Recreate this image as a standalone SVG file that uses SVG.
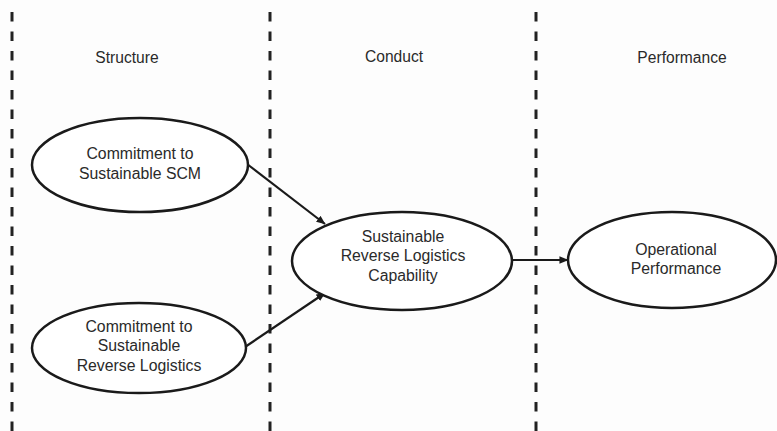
<svg xmlns="http://www.w3.org/2000/svg" width="777" height="431" viewBox="0 0 777 431">
<style>
.div{stroke:#222;stroke-width:3;stroke-dasharray:9.5 10;fill:none}
.node ellipse{fill:#fff;stroke:#1a1a1a;stroke-width:2.5}
text{font-family:"Liberation Sans",Arial,sans-serif;font-size:15.8px;fill:#2a2a2a;text-anchor:middle}
.head{font-size:15.6px}
.conn line{stroke:#1a1a1a;stroke-width:2.2}
</style>
<defs>
<marker id="ah" viewBox="0 0 10 10" refX="9.5" refY="5" markerWidth="9" markerHeight="9" markerUnits="userSpaceOnUse" orient="auto">
<path d="M0,0.8 L10,5 L0,9.2 Z" fill="#1a1a1a"/>
</marker>
</defs>
<rect width="777" height="431" fill="#fdfdfd"/>
<g id="dividers">
<line class="div" x1="12" y1="12" x2="12" y2="431"/>
<line class="div" x1="270" y1="12" x2="270" y2="431"/>
<line class="div" x1="536" y1="12" x2="536" y2="431"/>
</g>
<g id="headers">
<text class="head" x="127" y="63">Structure</text>
<text class="head" x="394" y="62">Conduct</text>
<text class="head" x="682" y="63">Performance</text>
</g>
<g class="conn" id="connectors">
<line x1="247" y1="164" x2="325" y2="224" marker-end="url(#ah)"/>
<line x1="245" y1="347" x2="325" y2="293" marker-end="url(#ah)"/>
<line x1="513" y1="260" x2="568" y2="260" marker-end="url(#ah)"/>
</g>
<g class="node" id="n-scm">
<ellipse cx="140" cy="165" rx="108" ry="47"/>
<text x="140" y="159">Commitment to</text>
<text x="140" y="179">Sustainable SCM</text>
</g>
<g class="node" id="n-rl">
<ellipse cx="139" cy="348" rx="107" ry="45"/>
<text x="139" y="332">Commitment to</text>
<text x="139" y="351">Sustainable</text>
<text x="139" y="371">Reverse Logistics</text>
</g>
<g class="node" id="n-cap">
<ellipse cx="402" cy="261" rx="110" ry="49"/>
<text x="403" y="242">Sustainable</text>
<text x="403" y="261">Reverse Logistics</text>
<text x="403" y="281">Capability</text>
</g>
<g class="node" id="n-perf">
<ellipse cx="672" cy="260" rx="104" ry="48"/>
<text x="676" y="255">Operational</text>
<text x="676" y="274">Performance</text>
</g>
</svg>
